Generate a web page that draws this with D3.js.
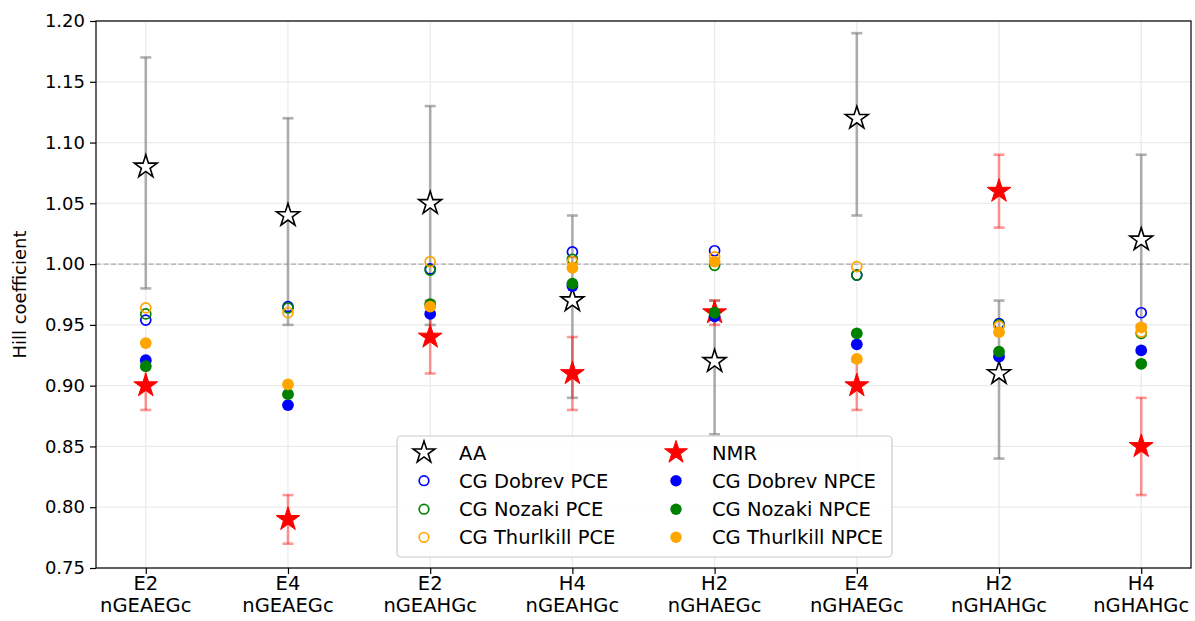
<!DOCTYPE html>
<html>
<head>
<meta charset="utf-8">
<script src="https://cdn.jsdelivr.net/npm/d3@7"></script>
<style>
  html, body { margin: 0; padding: 0; background: #fff; }
  svg { display: block; font-family: "DejaVu Sans", sans-serif; }
</style>
</head>
<body>
<svg id="chart" width="1195" height="621"></svg>
<script>
// ---------------- data ----------------
const catTop = ["E2", "E4", "E2", "H4", "H2", "E4", "H2", "H4"];
const catBottom = ["nGEAEGc", "nGEAEGc", "nGEAHGc", "nGEAHGc", "nGHAEGc", "nGHAEGc", "nGHAHGc", "nGHAHGc"];

const aaValues = [1.08, 1.04, 1.05, 0.97, 0.92, 1.12, 0.91, 1.02];
const aaLower  = [0.98, 0.95, 0.95, 0.89, 0.86, 1.04, 0.84, 0.95];
const aaUpper  = [1.17, 1.12, 1.13, 1.04, 0.97, 1.19, 0.97, 1.09];

const nmrValues = [0.90, 0.79, 0.94, 0.91, 0.96, 0.90, 1.06, 0.85];
const nmrLower  = [0.88, 0.77, 0.91, 0.88, 0.95, 0.88, 1.03, 0.81];
const nmrUpper  = [0.92, 0.81, 0.97, 0.94, 0.97, 0.92, 1.09, 0.89];

const dobrevPCE    = [0.954, 0.965, 0.996, 1.010, 1.011, 0.991, 0.951, 0.960];
const nozakiPCE    = [0.959, 0.964, 0.995, 1.004, 0.999, 0.991, 0.950, 0.943];
const thurlkillPCE = [0.964, 0.960, 1.002, 1.002, 1.006, 0.998, 0.949, 0.944];

const dobrevNPCE    = [0.921, 0.884, 0.959, 0.982, 0.957, 0.934, 0.924, 0.929];
const nozakiNPCE    = [0.916, 0.893, 0.967, 0.984, 0.960, 0.943, 0.928, 0.918];
const thurlkillNPCE = [0.935, 0.901, 0.965, 0.997, 1.002, 0.922, 0.944, 0.948];

const yTicks = [0.75, 0.80, 0.85, 0.90, 0.95, 1.00, 1.05, 1.10, 1.15, 1.20];
const yLabel = "Hill coefficient";

// ---------------- layout ----------------
const svg = d3.select("#chart");
const L = 96, R = 1191, T = 21, B = 568;
const FS = 19.5;
const FSY = 18;
const idx = d3.range(catTop.length);

const x = d3.scaleLinear().domain([-0.35, catTop.length - 1 + 0.35]).range([L, R]);
const y = d3.scaleLinear().domain([0.75, 1.20]).range([B, T]);

// grid
const grid = svg.append("g");
grid.selectAll("line.gy").data(yTicks).join("line")
  .attr("x1", L).attr("x2", R).attr("y1", d => y(d)).attr("y2", d => y(d))
  .attr("stroke", "#ebebeb").attr("stroke-width", 1.3);
grid.selectAll("line.gx").data(idx).join("line")
  .attr("x1", d => x(d)).attr("x2", d => x(d)).attr("y1", T).attr("y2", B)
  .attr("stroke", "#ebebeb").attr("stroke-width", 1.3);

// reference line at 1.0
svg.append("line")
  .attr("x1", L).attr("x2", R).attr("y1", y(1.0)).attr("y2", y(1.0))
  .attr("stroke", "#999").attr("stroke-width", 1).attr("stroke-dasharray", "5,2.5");

function starPath(r) {
  const pts = [];
  for (let i = 0; i < 10; i++) {
    const a = -Math.PI / 2 + i * Math.PI / 5;
    const rr = i % 2 === 0 ? r : r * 0.381966;
    pts.push([rr * Math.cos(a), rr * Math.sin(a)]);
  }
  return "M" + pts.map(p => p[0].toFixed(2) + "," + p[1].toFixed(2)).join("L") + "Z";
}

function errorBars(lower, upper, color, opacity) {
  const g = svg.append("g").attr("stroke", color).attr("stroke-opacity", opacity).attr("stroke-width", 2.6);
  g.selectAll("line.v").data(idx).join("line")
    .attr("x1", d => x(d)).attr("x2", d => x(d))
    .attr("y1", d => y(lower[d])).attr("y2", d => y(upper[d]));
  const cap = 5.5;
  g.selectAll("line.lo").data(idx).join("line")
    .attr("x1", d => x(d) - cap).attr("x2", d => x(d) + cap)
    .attr("y1", d => y(lower[d])).attr("y2", d => y(lower[d]));
  g.selectAll("line.hi").data(idx).join("line")
    .attr("x1", d => x(d) - cap).attr("x2", d => x(d) + cap)
    .attr("y1", d => y(upper[d])).attr("y2", d => y(upper[d]));
}

// AA
errorBars(aaLower, aaUpper, "#808080", 0.62);
svg.append("g").selectAll("path").data(idx).join("path")
  .attr("d", starPath(12))
  .attr("transform", d => `translate(${x(d)},${y(aaValues[d])})`)
  .attr("fill", "#fff").attr("stroke", "#000").attr("stroke-width", 1.6);

// NMR
errorBars(nmrLower, nmrUpper, "#ff0000", 0.4);
svg.append("g").selectAll("path").data(idx).join("path")
  .attr("d", starPath(12.5))
  .attr("transform", d => `translate(${x(d)},${y(nmrValues[d])})`)
  .attr("fill", "#ff0000").attr("stroke", "#ff0000").attr("stroke-width", 1);

// PCE open circles
const openSeries = [[dobrevPCE, "#0000ff"], [nozakiPCE, "#008000"], [thurlkillPCE, "#ffa500"]];
openSeries.forEach(([vals, col]) => {
  svg.append("g").selectAll("circle").data(idx).join("circle")
    .attr("cx", d => x(d)).attr("cy", d => y(vals[d])).attr("r", 5)
    .attr("fill", "none").attr("stroke", col).attr("stroke-width", 1.7);
});
// NPCE filled circles
const filledSeries = [[dobrevNPCE, "#0000ff"], [nozakiNPCE, "#008000"], [thurlkillNPCE, "#ffa500"]];
filledSeries.forEach(([vals, col]) => {
  svg.append("g").selectAll("circle").data(idx).join("circle")
    .attr("cx", d => x(d)).attr("cy", d => y(vals[d])).attr("r", 5.9)
    .attr("fill", col);
});

// axes
const yAxis = svg.append("g").attr("transform", `translate(${L},0)`)
  .call(d3.axisLeft(y).tickValues(yTicks).tickFormat(d3.format(".2f")).tickSize(6).tickPadding(5));
const xAxis = svg.append("g").attr("transform", `translate(0,${B})`)
  .call(d3.axisBottom(x).tickValues(idx).tickFormat("").tickSize(6));
[yAxis, xAxis].forEach(a => {
  a.select(".domain").remove();
  a.selectAll(".tick line").attr("stroke", "#000").attr("stroke-width", 1.2);
  a.selectAll("text").attr("font-size", FSY).attr("font-family", "DejaVu Sans").attr("fill", "#000");
});
// x tick labels (two lines)
const xl = svg.append("g").attr("font-size", FS).attr("text-anchor", "middle").attr("fill", "#000");
xl.selectAll("text.t").data(idx).join("text")
  .attr("x", d => x(d)).attr("y", 590).text(d => catTop[d]);
xl.selectAll("text.b").data(idx).join("text")
  .attr("x", d => x(d)).attr("y", 612).text(d => catBottom[d]);

// frame
svg.append("rect").attr("x", L).attr("y", T).attr("width", R - L).attr("height", B - T)
  .attr("fill", "none").attr("stroke", "#000").attr("stroke-width", 1.2);

// y label
svg.append("text")
  .attr("transform", `translate(26,${(T + B) / 2}) rotate(-90)`)
  .attr("text-anchor", "middle").attr("font-size", 18).text(yLabel);

// legend
const lg = svg.append("g");
lg.append("rect").attr("x", 397).attr("y", 436).attr("width", 495).attr("height", 121)
  .attr("rx", 4).attr("fill", "#fff").attr("fill-opacity", 0.85)
  .attr("stroke", "#cccccc").attr("stroke-width", 1.2);
const legendItems = [
  {label: "AA", col: 0, row: 0, type: "openstar", color: "#000"},
  {label: "CG Dobrev PCE", col: 0, row: 1, type: "open", color: "#0000ff"},
  {label: "CG Nozaki PCE", col: 0, row: 2, type: "open", color: "#008000"},
  {label: "CG Thurlkill PCE", col: 0, row: 3, type: "open", color: "#ffa500"},
  {label: "NMR", col: 1, row: 0, type: "star", color: "#ff0000"},
  {label: "CG Dobrev NPCE", col: 1, row: 1, type: "filled", color: "#0000ff"},
  {label: "CG Nozaki NPCE", col: 1, row: 2, type: "filled", color: "#008000"},
  {label: "CG Thurlkill NPCE", col: 1, row: 3, type: "filled", color: "#ffa500"}
];
const rowY = [452.5, 480.7, 509.2, 537.3];
const colMarkX = [424, 676];
const colTextX = [459, 712];
legendItems.forEach(it => {
  const mx = colMarkX[it.col], my = rowY[it.row];
  if (it.type === "openstar") {
    lg.append("path").attr("d", starPath(11.5)).attr("transform", `translate(${mx},${my})`)
      .attr("fill", "#fff").attr("stroke", "#000").attr("stroke-width", 1.6);
  } else if (it.type === "star") {
    lg.append("path").attr("d", starPath(12)).attr("transform", `translate(${mx},${my})`)
      .attr("fill", it.color).attr("stroke", it.color).attr("stroke-width", 1);
  } else if (it.type === "open") {
    lg.append("circle").attr("cx", mx).attr("cy", my).attr("r", 4.8)
      .attr("fill", "none").attr("stroke", it.color).attr("stroke-width", 1.7);
  } else {
    lg.append("circle").attr("cx", mx).attr("cy", my).attr("r", 5.7).attr("fill", it.color);
  }
  lg.append("text").attr("x", colTextX[it.col]).attr("y", my).attr("dy", "0.36em")
    .attr("font-size", FS).attr("fill", "#000").text(it.label);
});
</script>
</body>
</html>
